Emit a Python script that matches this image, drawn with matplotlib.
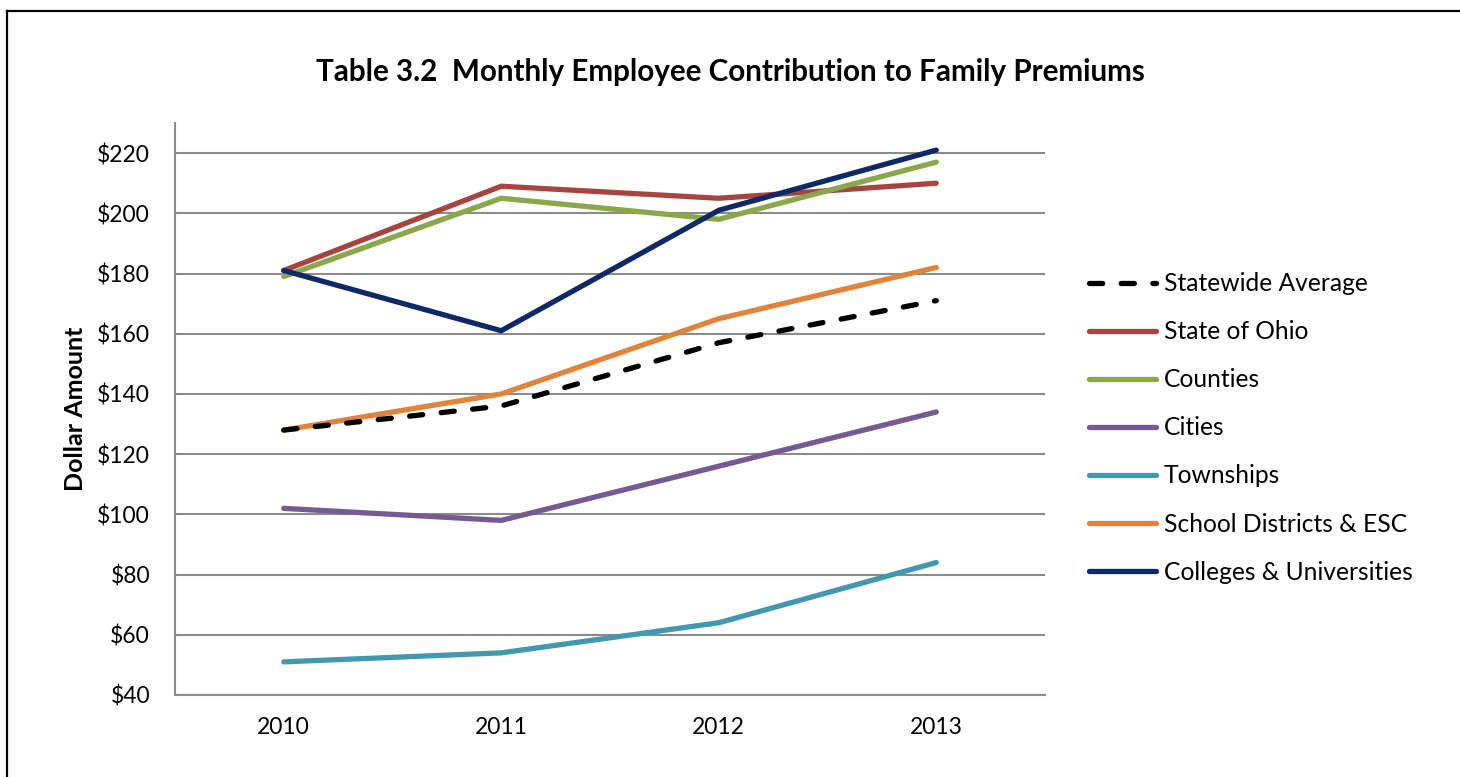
import matplotlib.pyplot as plt
from matplotlib.lines import Line2D

plt.rcParams['font.family'] = ['Lato', 'DejaVu Sans']

years = ['2010', '2011', '2012', '2013']
statewide = [128, 136, 157, 171]
state_ohio = [181, 209, 205, 210]
counties = [179, 205, 198, 217]
cities = [102, 98, 116, 134]
townships = [51, 54, 64, 84]
schools = [128, 140, 165, 182]
colleges = [181, 161, 201, 221]

y_ticks = list(range(40, 221, 20))

series = [
    ('State of Ohio', state_ohio, '#A8443F'),
    ('Counties', counties, '#88A84A'),
    ('Cities', cities, '#775A94'),
    ('Townships', townships, '#4298B0'),
    ('School Districts & ESC', schools, '#E0843B'),
    ('Colleges & Universities', colleges, '#0E2A66'),
]

fig = plt.figure(figsize=(14.6, 7.77), dpi=100)
ax = fig.add_axes([175 / 1460, 1 - 695 / 777, 870 / 1460, 572 / 777])

x = range(len(years))
lw = 3.8
for name, vals, col in series:
    ax.plot(x, vals, color=col, lw=lw, solid_capstyle='round', solid_joinstyle='round', label=name, zorder=3)
avg_line, = ax.plot(x, statewide, color='black', lw=lw, dashes=(2.5, 3.5), dash_capstyle='round',
                    label='Statewide Average', zorder=4)

ax.set_xlim(-0.5, 3.5)
ax.set_ylim(40, 230)
ax.set_yticks(y_ticks)
ax.set_yticklabels([f'${v}' for v in y_ticks])
ax.set_xticks(list(x))
ax.set_xticklabels(years)
ax.tick_params(axis='both', length=0, labelsize=16.5)
ax.tick_params(axis='y', pad=18)
ax.tick_params(axis='x', pad=16)
ax.yaxis.grid(True, color='#8C8C8C', lw=1.5)
ax.set_axisbelow(True)
for s in ['top', 'right']:
    ax.spines[s].set_visible(False)
for s in ['left', 'bottom']:
    ax.spines[s].set_color('#8C8C8C')
    ax.spines[s].set_linewidth(1.5)

ax.set_ylabel('Dollar Amount', fontsize=18, fontweight='bold', labelpad=7)
fig.text(730 / 1460, 1 - 72 / 777, 'Table 3.2  Monthly Employee Contribution to Family Premiums',
         ha='center', va='center', fontsize=21.3, fontweight='bold')

handles = [avg_line] + ax.get_lines()[:6]
labels = [h.get_label() for h in handles]
fig.legend(handles, labels, loc='upper left', bbox_to_anchor=(1067 / 1460, 1 - 250 / 777),
           frameon=False, fontsize=17.7, handlelength=2.7, handletextpad=0.35, labelspacing=1.02)

# outer frame (left and top edges)
fig.add_artist(Line2D([6.5 / 1460, 6.5 / 1460], [0, 1 - 10.5 / 777], color='black', lw=1.6,
                      transform=fig.transFigure))
fig.add_artist(Line2D([6.5 / 1460, 1], [1 - 10.5 / 777, 1 - 10.5 / 777], color='black', lw=1.6,
                      transform=fig.transFigure))

fig.savefig('out.png', dpi=100)
